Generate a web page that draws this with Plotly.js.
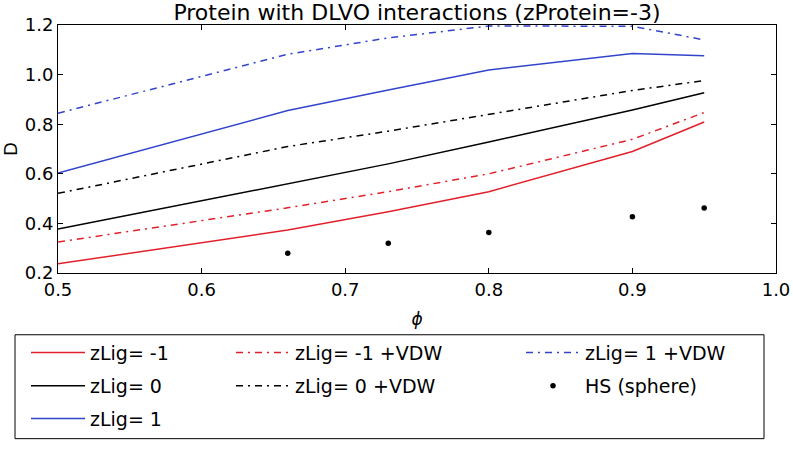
<!DOCTYPE html>
<html>
<head>
<meta charset="utf-8">
<script src="https://cdn.plot.ly/plotly-3.0.1.min.js"></script>
<style>html,body{margin:0;padding:0;background:#fff;}</style>
</head>
<body>
<div id="chart" style="width:793px;height:449px;"></div>
<script>
// volume fraction values
const phi = [0.5, 0.66, 0.73, 0.8, 0.9, 0.95];
const zLigM1 = [0.237, 0.373, 0.447, 0.528, 0.690, 0.809];
const zLig0 = [0.377, 0.561, 0.640, 0.728, 0.857, 0.927];
const zLig1 = [0.603, 0.855, 0.938, 1.019, 1.085, 1.076];
const zLigM1VDW = [0.325, 0.463, 0.528, 0.600, 0.739, 0.847];
const zLig0VDW = [0.521, 0.710, 0.772, 0.840, 0.936, 0.976];
const zLig1VDW = [0.844, 1.082, 1.148, 1.196, 1.195, 1.140];
const hsPhi = [0.66, 0.73, 0.8, 0.9, 0.95];
const hsSphere = [0.280, 0.320, 0.363, 0.427, 0.462];
const names = ['zLig= -1', 'zLig= 0', 'zLig= 1', 'zLig= -1 +VDW', 'zLig= 0 +VDW', 'zLig= 1 +VDW', 'HS (sphere)'];

const RED = '#e2202a', BLACK = '#000000', BLUE = '#3344cc';
const DD = '7px,5px,2px,5px';
const FONT = 'DejaVu Sans, sans-serif';

function line(y, name, color, dash, leg) {
  return {x: phi, y: y, name: name, type: 'scatter', mode: 'lines',
          line: {color: color, width: 1.5, dash: dash}, legend: leg};
}
const data = [
  line(zLigM1, names[0], RED, 'solid', 'legend'),
  line(zLig0, names[1], BLACK, 'solid', 'legend2'),
  line(zLig1, names[2], BLUE, 'solid', 'legend3'),
  line(zLigM1VDW, names[3], RED, DD, 'legend4'),
  line(zLig0VDW, names[4], BLACK, DD, 'legend5'),
  line(zLig1VDW, names[5], BLUE, DD, 'legend6'),
  {x: hsPhi, y: hsSphere, name: names[6], type: 'scatter', mode: 'markers',
   marker: {color: BLACK, size: 5.5}, legend: 'legend7'}
];

// plot area in pixels: x 58..776, y 25..278
const L = 58, R = 776, T = 25, B = 278;
const px = v => (v - L) / (R - L);
const py = v => (B - v) / (B - T);
function leg(xpix, ypix) {
  return {x: px(xpix), y: py(ypix), xanchor: 'left', yanchor: 'middle',
          bgcolor: 'rgba(0,0,0,0)', borderwidth: 0, itemwidth: 54,
          font: {family: FONT, size: 19, color: '#000'}};
}
const colX = [26, 231, 521];
const rowY = [359.3, 393.3, 426.7];

const layout = {
  width: 793, height: 449,
  margin: {l: L, r: 793 - R, t: T, b: 449 - B, pad: 0},
  paper_bgcolor: '#fff', plot_bgcolor: '#fff',
  font: {family: FONT, color: '#000'},
  title: {text: 'Protein with DLVO interactions (zProtein=-3)', font: {family: FONT, size: 22, color: '#000'},
          x: 0.5, xref: 'paper', y: 1 - 12.5 / 449, yanchor: 'middle', yref: 'container'},
  showlegend: true,
  xaxis: {range: [0.5, 1.0], tick0: 0.5, dtick: 0.1, tickformat: '.1f',
          ticks: 'inside', ticklen: 5, tickcolor: '#000', mirror: 'allticks', showline: true,
          linecolor: '#000', linewidth: 1, showgrid: false, zeroline: false,
          tickfont: {family: FONT, size: 18, color: '#000'},
          title: {text: '<i>ϕ</i>', font: {family: FONT, size: 17, color: '#000'}, standoff: 14}},
  yaxis: {range: [0.2, 1.2], tick0: 0.2, dtick: 0.2, tickformat: '.1f',
          ticks: 'inside', ticklen: 5, tickcolor: '#000', mirror: 'allticks', showline: true,
          linecolor: '#000', linewidth: 1, showgrid: false, zeroline: false,
          tickfont: {family: FONT, size: 18, color: '#000'},
          title: {text: 'D', font: {family: FONT, size: 18, color: '#000'}, standoff: 11}},
  legend: leg(colX[0], rowY[0]),
  legend2: leg(colX[0], rowY[1]),
  legend3: leg(colX[0], rowY[2]),
  legend4: leg(colX[1], rowY[0]),
  legend5: leg(colX[1], rowY[1]),
  legend6: leg(colX[2], rowY[0]),
  legend7: leg(colX[2], rowY[1]),
  shapes: [{type: 'rect', xref: 'paper', yref: 'paper',
            x0: px(15), x1: px(764), y0: py(447), y1: py(341),
            line: {color: '#000', width: 1}, fillcolor: 'rgba(0,0,0,0)'}]
};

Plotly.newPlot('chart', data, layout, {displayModeBar: false, staticPlot: true});
</script>
</body>
</html>
